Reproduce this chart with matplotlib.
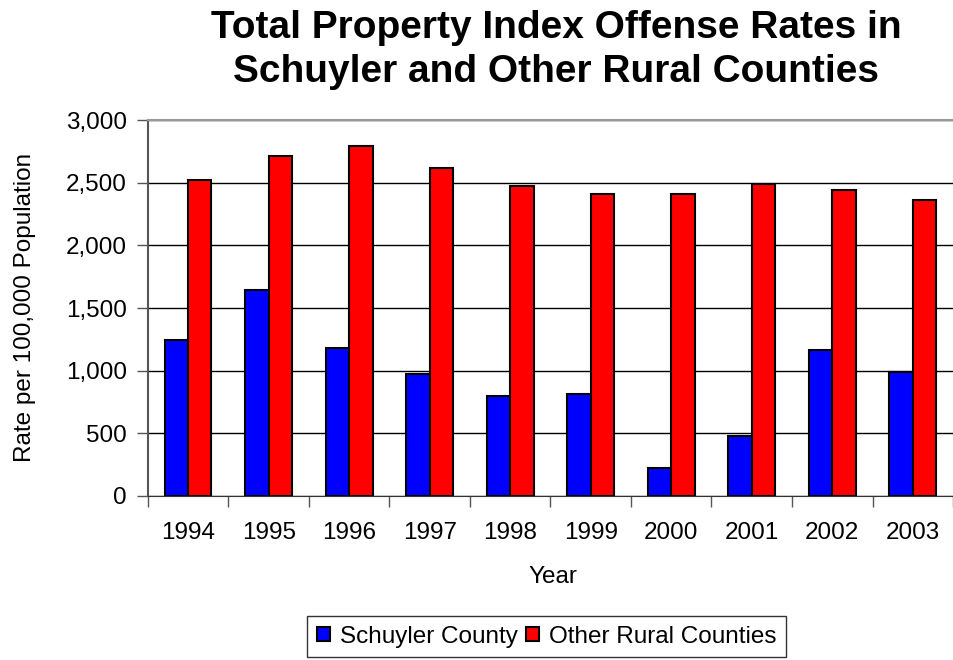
import matplotlib.pyplot as plt
import numpy as np

years = ['1994', '1995', '1996', '1997', '1998', '1999', '2000', '2001', '2002', '2003']
schuyler = [1246, 1645, 1182, 972, 798, 814, 221, 477, 1166, 988]
other_rural = [2521, 2715, 2795, 2617, 2473, 2409, 2409, 2489, 2441, 2364]

plt.rcParams['font.family'] = ['Liberation Sans', 'DejaVu Sans']

fig = plt.figure(figsize=(9.54, 6.6), dpi=100)
ax = fig.add_axes([0.155, 0.2485, 0.844, 0.5695])

x = np.arange(len(years))
w = 0.29
ax.bar(x - w / 2, schuyler, w, color='#0000ff', edgecolor='black', linewidth=1.5,
       label='Schuyler County', zorder=3)
ax.bar(x + w / 2, other_rural, w, color='#ff0000', edgecolor='black', linewidth=1.5,
       label='Other Rural Counties', zorder=3)

ax.set_xlim(-0.5, len(years) - 0.5)
ax.set_ylim(0, 3000)
ax.set_yticks(np.arange(0, 3001, 500))
ax.set_yticklabels(['{:,}'.format(v) for v in range(0, 3001, 500)])
ax.yaxis.grid(True, color='black', linewidth=1)
ax.set_axisbelow(True)

ax.set_xticks(x)
ax.set_xticklabels(years)
ax.set_xticks(np.arange(-0.5, len(years), 1), minor=True)
ax.tick_params(axis='x', which='major', length=0, pad=19, labelsize=17.5)
ax.tick_params(axis='x', which='minor', length=8, width=1, color='#555555', direction='out')
ax.tick_params(axis='y', length=8, width=1, color='#555555', direction='out', pad=7, labelsize=17.5)

ax.spines['top'].set_color('#999999')
ax.spines['top'].set_linewidth(1.5)
ax.spines['left'].set_color('#555555')
ax.spines['left'].set_linewidth(1.5)
ax.spines['bottom'].set_color('#333333')
ax.spines['right'].set_visible(False)

fig.text(553 / 954, 1 - 577 / 660, 'Year', fontsize=17.5, ha='center', va='center')
fig.text(25 / 954, 1 - 307 / 660, 'Rate per 100,000 Population', fontsize=17.5,
         rotation=90, ha='center', va='center')

fig.suptitle('Total Property Index Offense Rates in\nSchuyler and Other Rural Counties',
             fontsize=28, fontweight='bold', x=0.583, y=0.985, linespacing=1.3)

leg = fig.legend(loc='upper center', bbox_to_anchor=(0.573, 1 - 616 / 660), ncol=2, fontsize=17.5,
                 frameon=True, fancybox=False, edgecolor='black', handlelength=0.55,
                 handleheight=0.55, handletextpad=0.4, columnspacing=0.35,
                 borderpad=0.4, borderaxespad=0)
leg.get_frame().set_linewidth(1)

fig.savefig('out.png', dpi=100)
